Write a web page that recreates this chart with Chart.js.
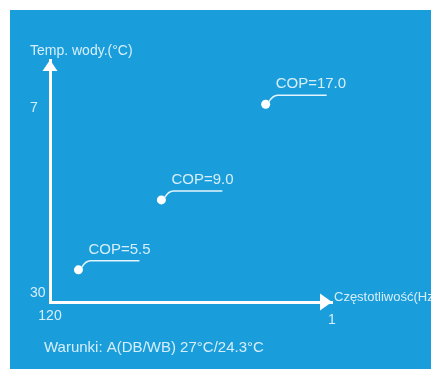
<!DOCTYPE html>
<html><head><meta charset="utf-8">
<script src="https://cdn.jsdelivr.net/npm/chart.js@4/dist/chart.umd.min.js"></script>
<style>
html,body{margin:0;padding:0;background:#fff;width:431px;height:369px;overflow:hidden}
#wrap{position:absolute;left:10px;top:10px;width:421px;height:359px;background:#1a9edb}
canvas{display:block}
</style></head><body>
<div id="wrap"><canvas id="c" width="421" height="359"></canvas></div>
<script>
// Data
const frequencyHz = [108, 73, 29];
const waterTempC = [27.1, 18.4, 6.5];
const copLabels = ['COP=5.5', 'COP=9.0', 'COP=17.0'];
const xTicks = [120, 1];
const yTicks = [7, 30];
const yTitle = 'Temp. wody.(°C)';
const xTitle = 'Częstotliwość(Hz)';
const footnote = 'Warunki: A(DB/WB) 27°C/24.3°C';

const FONT = '"Liberation Sans", Arial, sans-serif';
const TXT = '#d6eefa';

const overlay = {
  id: 'overlay',
  afterDraw(chart) {
    const ctx = chart.ctx, a = chart.chartArea;
    ctx.save();
    // arrowheads
    ctx.fillStyle = '#ffffff';
    ctx.beginPath();
    ctx.moveTo(a.left, a.top);
    ctx.lineTo(a.left - 7.5, a.top + 11);
    ctx.lineTo(a.left + 7.5, a.top + 11);
    ctx.closePath(); ctx.fill();
    ctx.beginPath();
    ctx.moveTo(a.right, a.bottom);
    ctx.lineTo(a.right - 12, a.bottom - 8.5);
    ctx.lineTo(a.right - 12, a.bottom + 8.5);
    ctx.closePath(); ctx.fill();
    // titles
    ctx.fillStyle = TXT;
    ctx.textBaseline = 'middle';
    ctx.textAlign = 'left';
    ctx.font = '14px ' + FONT;
    ctx.fillText(yTitle, 20, 41);
    ctx.font = '13px ' + FONT;
    ctx.fillText(xTitle, a.right + 2, a.bottom - 5);
    ctx.font = '15px ' + FONT;
    ctx.fillText(footnote, 34, 338);
    // leader lines & labels
    const meta = chart.getDatasetMeta(0);
    meta.data.forEach((pt, i) => {
      const px = pt.x, py = pt.y;
      ctx.strokeStyle = '#e2f4fc';
      ctx.lineWidth = 1.5;
      ctx.beginPath();
      ctx.moveTo(px + 3, py - 2);
      ctx.quadraticCurveTo(px + 7, py - 9, px + 12, py - 9);
      ctx.lineTo(px + 61, py - 9);
      ctx.stroke();
      ctx.fillStyle = TXT;
      ctx.font = '15px ' + FONT;
      ctx.fillText(copLabels[i], px + 10, py - 20);
    });
    ctx.restore();
  }
};

new Chart(document.getElementById('c'), {
  type: 'scatter',
  data: {
    datasets: [{
      data: frequencyHz.map((x, i) => ({x: x, y: waterTempC[i]})),
      pointRadius: 4.5,
      pointBackgroundColor: '#ffffff',
      pointBorderWidth: 0,
      showLine: false
    }]
  },
  options: {
    responsive: false,
    animation: false,
    layout: {padding: {left: 20, right: 99, top: 50, bottom: 0}},
    plugins: {legend: {display: false}, tooltip: {enabled: false}, title: {display: false}},
    scales: {
      x: {
        type: 'linear', reverse: true, min: 1, max: 120,
        grid: {display: false, drawTicks: false},
        border: {display: true, color: '#ffffff', width: 3},
        afterBuildTicks: s => { s.ticks = xTicks.map(v => ({value: v})); },
        afterFit: s => { s.height = 67; },
        ticks: {
          color: TXT, padding: 6, maxRotation: 0, autoSkip: false,
          font: c => ({family: FONT, size: 14, lineHeight: (c.tick && c.tick.value === 1) ? 1.8 : 1.2})
        }
      },
      y: {
        type: 'linear', reverse: true, min: 1, max: 31.1,
        grid: {display: false, drawTicks: false},
        border: {display: true, color: '#ffffff', width: 3},
        afterBuildTicks: s => { s.ticks = yTicks.map(v => ({value: v})); },
        afterFit: s => { s.width = 20; },
        ticks: {color: TXT, crossAlign: 'far', autoSkip: false, font: {family: FONT, size: 14}}
      }
    }
  },
  plugins: [overlay]
});
</script>
</body></html>
